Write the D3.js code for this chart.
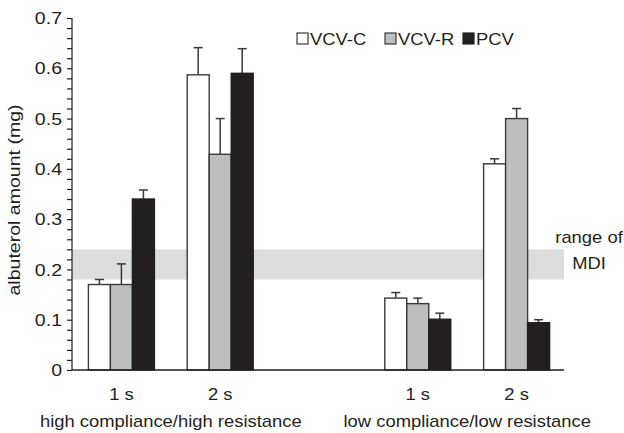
<!DOCTYPE html>
<html>
<head>
<meta charset="utf-8">
<script src="https://cdn.jsdelivr.net/npm/d3@7"></script>
<style>
  html, body { margin: 0; padding: 0; background: #fff; }
  svg { display: block; font-family: "Liberation Sans", Arial, sans-serif; }
  text { fill: #231f20; }
</style>
</head>
<body>
<svg id="chart" width="624" height="433"></svg>
<script>
// Breath-hold timing per ventilation condition
const timeLabels = ["1 s", "2 s", "1 s", "2 s"];
const conditions = ["high compliance/high resistance", "low compliance/low resistance"];
const seriesNames = ["VCV-C", "VCV-R", "PCV"];

// Albuterol amount (mg), mean and upper error
const vcvC    = [0.170, 0.587, 0.143, 0.410];
const vcvCErr = [0.010, 0.054, 0.011, 0.010];
const vcvR    = [0.170, 0.429, 0.132, 0.500];
const vcvRErr = [0.041, 0.071, 0.011, 0.020];
const pcv     = [0.340, 0.590, 0.101, 0.094];
const pcvErr  = [0.018, 0.049, 0.012, 0.006];

// MDI delivery range (mg)
const mdiRange = [0.18, 0.24];

const yTicks = [0, 0.1, 0.2, 0.3, 0.4, 0.5, 0.6, 0.7];

(function draw() {
  const fills = ["#ffffff", "#bcbec0", "#231f20"];
  const strokeCol = "#3a3a3a";
  const SX = 1.15; // horizontal text stretch

  const svg = d3.select("#chart");

  const mLeft = 72, mRight = 566, mTop = 18, mBottom = 370, axisEnd = 564;

  // slot index: condition * 3 + time index (middle slot left empty)
  const slotOf = i => (i < 2 ? i : i + 1);

  const x0 = d3.scaleBand().domain(d3.range(5)).range([mLeft, mRight]).padding(0);
  const x1 = d3.scaleBand().domain(seriesNames).range([-33, 33]).padding(0);
  const y = d3.scaleLinear().domain([0, 0.7]).range([mBottom, mTop]);

  const values = [vcvC, vcvR, pcv];
  const errs = [vcvCErr, vcvRErr, pcvErr];

  // MDI range band
  svg.append("rect")
    .attr("x", mLeft)
    .attr("y", y(mdiRange[1]))
    .attr("width", axisEnd - mLeft)
    .attr("height", y(mdiRange[0]) - y(mdiRange[1]))
    .attr("fill", "#dcddde");

  const stretchText = (sel, x, yy, rot, size, anchor) => {
    sel.attr("transform", `translate(${x},${yy}) rotate(${rot}) scale(${SX},1)`)
       .attr("font-size", size)
       .attr("text-anchor", anchor);
    return sel;
  };

  // "range of MDI" note
  const noteX = 589;
  stretchText(svg.append("text").text("range of"), noteX, 243, 0, 16, "middle");
  stretchText(svg.append("text").text("MDI"), noteX, 269, 0, 16, "middle");

  // Bars and error bars
  const barData = [];
  seriesNames.forEach((s, si) => {
    timeLabels.forEach((t, i) => {
      barData.push({ s, si, i, v: values[si][i], e: errs[si][i] });
    });
  });

  const gBars = svg.append("g");
  const bx = d => x0(slotOf(d.i)) + x0.bandwidth() / 2 + x1(d.s);
  const cx = d => bx(d) + x1.bandwidth() / 2;

  gBars.selectAll("line.err")
    .data(barData)
    .join("line")
    .attr("class", "err")
    .attr("x1", cx).attr("x2", cx)
    .attr("y1", d => y(d.v)).attr("y2", d => y(d.v + d.e))
    .attr("stroke", strokeCol).attr("stroke-width", 1.5);

  gBars.selectAll("line.cap")
    .data(barData)
    .join("line")
    .attr("class", "cap")
    .attr("x1", d => cx(d) - 4.5).attr("x2", d => cx(d) + 4.5)
    .attr("y1", d => y(d.v + d.e)).attr("y2", d => y(d.v + d.e))
    .attr("stroke", strokeCol).attr("stroke-width", 1.5);

  gBars.selectAll("rect.bar")
    .data(barData)
    .join("rect")
    .attr("class", "bar")
    .attr("x", bx)
    .attr("y", d => y(d.v))
    .attr("width", x1.bandwidth())
    .attr("height", d => y(0) - y(d.v))
    .attr("fill", d => fills[d.si])
    .attr("stroke", d => d.si === 2 ? fills[2] : strokeCol)
    .attr("stroke-width", 1.4);

  // Y axis with minor ticks
  const minor = d3.range(0, 0.7001, 0.02);
  const yAxisG = svg.append("g").attr("transform", `translate(${mLeft},0)`);
  yAxisG.call(d3.axisLeft(y).tickValues(minor).tickSize(5).tickFormat(""));
  yAxisG.selectAll("path, line").attr("stroke", "#231f20").attr("stroke-width", 1.2);
  yAxisG.select(".domain").attr("d", `M0,${mTop}V${mBottom}`);

  const yLab = svg.append("g").attr("transform", `translate(${mLeft},0)`);
  yLab.selectAll("text")
    .data(yTicks)
    .join("text")
    .text(d => d === 0 ? "0" : d3.format(".1f")(d))
    .attr("dy", "0.36em")
    .each(function(d) {
      stretchText(d3.select(this), -10, y(d), 0, 17, "end");
    });

  // X axis line
  svg.append("line")
    .attr("x1", mLeft).attr("x2", axisEnd)
    .attr("y1", mBottom).attr("y2", mBottom)
    .attr("stroke", "#231f20").attr("stroke-width", 1.4);

  // X tick labels
  timeLabels.forEach((t, i) => {
    stretchText(svg.append("text").text(t),
      x0(slotOf(i)) + x0.bandwidth() / 2, 400, 0, 16, "middle");
  });

  // Condition labels
  conditions.forEach((c, ci) => {
    const a = x0(slotOf(ci * 2)) + x0.bandwidth() / 2;
    const b = x0(slotOf(ci * 2 + 1)) + x0.bandwidth() / 2;
    stretchText(svg.append("text").text(c), (a + b) / 2, 427, 0, 16, "middle");
  });

  // Y axis title
  stretchText(svg.append("text").text("albuterol amount (mg)"), 20, 200, -90, 17, "middle");

  // Legend
  const legendX = [297, 385, 463];
  seriesNames.forEach((s, si) => {
    const g = svg.append("g");
    g.append("rect")
      .attr("x", legendX[si]).attr("y", 33)
      .attr("width", 11).attr("height", 11)
      .attr("fill", fills[si])
      .attr("stroke", si === 2 ? fills[2] : strokeCol)
      .attr("stroke-width", 1.2);
    stretchText(g.append("text").text(s), legendX[si] + 13, 45, 0, 16, "start");
  });
})();
</script>
</body>
</html>
